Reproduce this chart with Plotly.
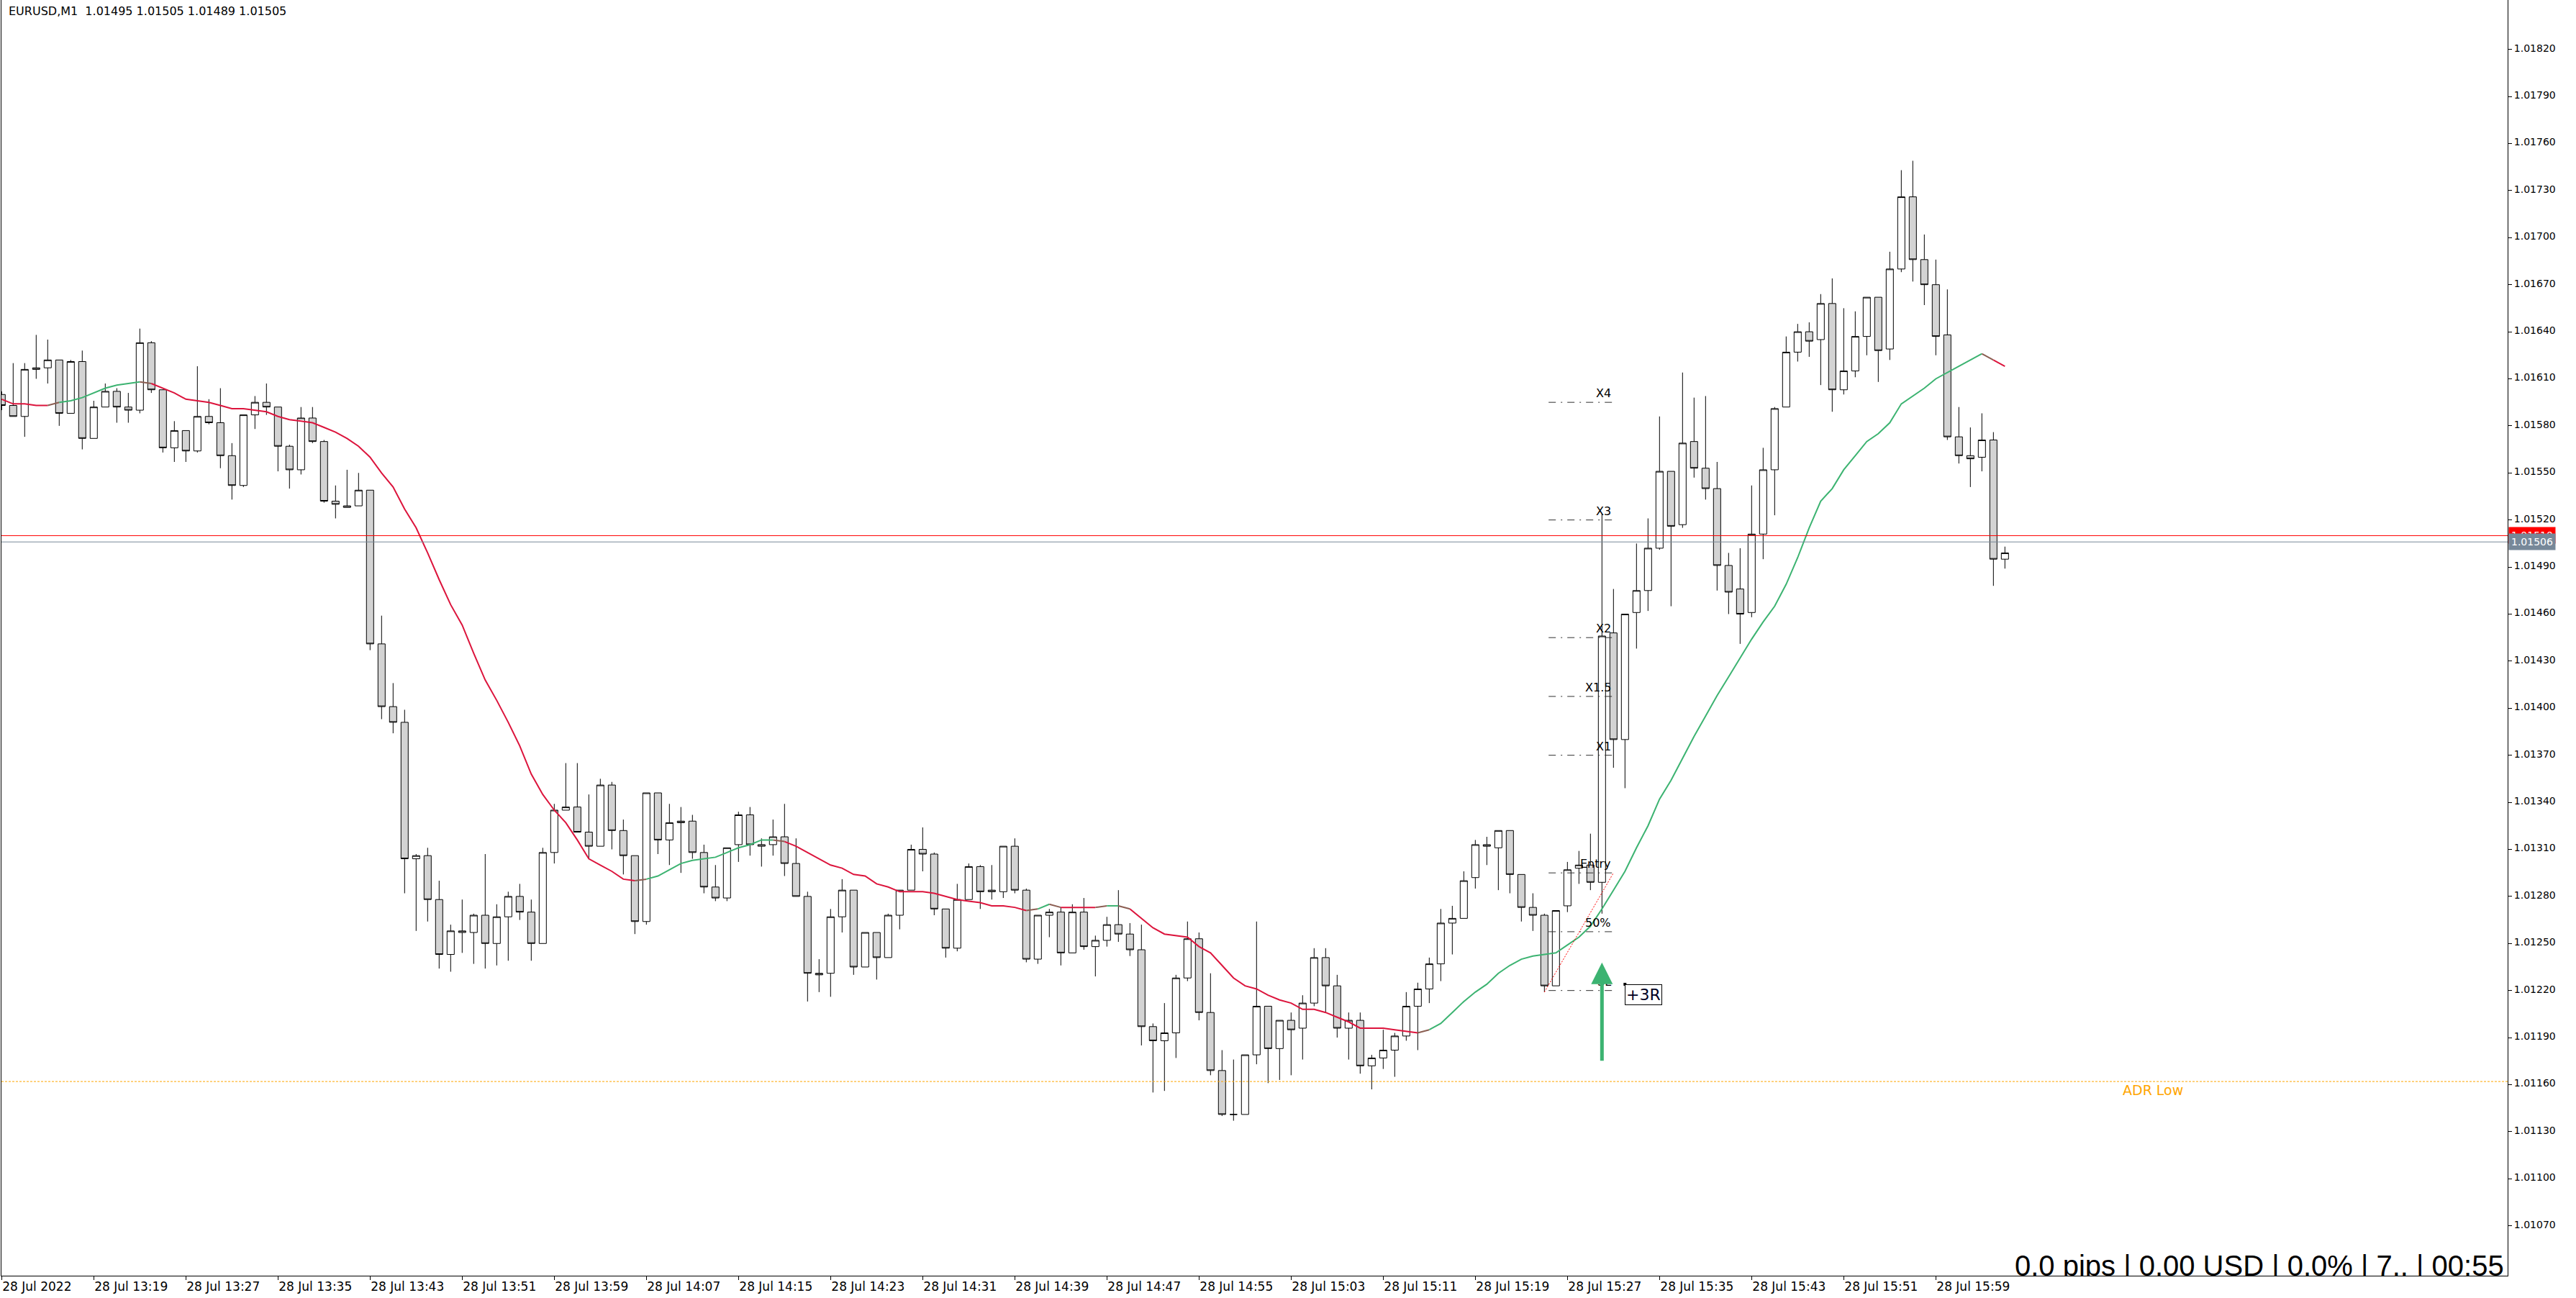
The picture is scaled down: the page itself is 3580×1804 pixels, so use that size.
import plotly.graph_objects as go
import pandas as pd

TITLE = "EURUSD,M1  1.01495 1.01505 1.01489 1.01505"
times = pd.date_range("2022-07-28 13:11", periods=175, freq="min")

opens = [1.01600,1.01593,1.01586,1.01616,1.01617,1.01622,1.01588,1.01621,1.01572,1.01592,
1.01602,1.01592,1.01590,1.01633,1.01603,1.01566,1.01577,1.01564,1.01586,1.01582,
1.01561,1.01542,1.01587,1.01595,1.01592,1.01567,1.01552,1.01585,1.01570,1.01532,
1.01528,1.01529,1.01539,1.01441,1.01401,1.01391,1.01304,1.01306,1.01278,1.01243,
1.01257,1.01257,1.01268,1.01250,1.01267,1.01280,1.01270,1.01250,1.01308,1.01335,
1.01337,1.01321,1.01312,1.01351,1.01322,1.01306,1.01264,1.01346,1.01316,1.01327,
1.01328,1.01308,1.01286,1.01279,1.01313,1.01332,1.01312,1.01313,1.01318,1.01301,
1.01280,1.01231,1.01231,1.01267,1.01284,1.01235,1.01257,1.01241,1.01268,1.01284,
1.01310,1.01307,1.01272,1.01247,1.01278,1.01299,1.01283,1.01283,1.01312,1.01284,
1.01240,1.01268,1.01270,1.01244,1.01270,1.01248,1.01252,1.01262,1.01256,1.01246,
1.01197,1.01188,1.01193,1.01228,1.01253,1.01206,1.01169,1.01141,1.01141,1.01179,
1.01210,1.01183,1.01201,1.01196,1.01212,1.01241,1.01223,1.01196,1.01201,1.01172,
1.01177,1.01182,1.01191,1.01210,1.01221,1.01237,1.01263,1.01266,1.01292,1.01313,
1.01311,1.01322,1.01294,1.01273,1.01268,1.01223,1.01274,1.01298,1.01300,1.01289,
1.01448,1.01380,1.01461,1.01475,1.01502,1.01551,1.01517,1.01570,1.01553,1.01540,
1.01491,1.01476,1.01461,1.01511,1.01552,1.01592,1.01627,1.01640,1.01635,1.01658,
1.01603,1.01615,1.01637,1.01662,1.01629,1.01680,1.01726,1.01686,1.01670,1.01638,
1.01573,1.01561,1.01560,1.01571,1.01495]

highs = [1.01602,1.01620,1.01620,1.01638,1.01635,1.01622,1.01622,1.01628,1.01596,1.01607,
1.01604,1.01601,1.01642,1.01634,1.01603,1.01583,1.01577,1.01618,1.01597,1.01604,
1.01569,1.01587,1.01599,1.01607,1.01592,1.01568,1.01592,1.01592,1.01571,1.01542,
1.01552,1.01550,1.01539,1.01459,1.01416,1.01399,1.01307,1.01311,1.01290,1.01262,
1.01278,1.01269,1.01307,1.01275,1.01283,1.01288,1.01278,1.01311,1.01339,1.01365,
1.01365,1.01345,1.01355,1.01353,1.01329,1.01306,1.01346,1.01346,1.01339,1.01337,
1.01332,1.01313,1.01300,1.01311,1.01334,1.01337,1.01317,1.01329,1.01339,1.01317,
1.01283,1.01240,1.01272,1.01291,1.01284,1.01257,1.01257,1.01269,1.01284,1.01313,
1.01324,1.01308,1.01272,1.01288,1.01301,1.01300,1.01300,1.01312,1.01317,1.01285,
1.01268,1.01272,1.01273,1.01275,1.01279,1.01255,1.01267,1.01284,1.01263,1.01262,
1.01199,1.01212,1.01230,1.01264,1.01257,1.01231,1.01182,1.01176,1.01179,1.01264,
1.01210,1.01201,1.01206,1.01217,1.01247,1.01247,1.01230,1.01206,1.01206,1.01179,
1.01195,1.01193,1.01219,1.01225,1.01241,1.01272,1.01274,1.01296,1.01316,1.01318,
1.01322,1.01322,1.01294,1.01282,1.01269,1.01271,1.01302,1.01309,1.01320,1.01524,
1.01476,1.01460,1.01505,1.01521,1.01586,1.01551,1.01614,1.01598,1.01599,1.01557,
1.01499,1.01502,1.01542,1.01566,1.01592,1.01637,1.01645,1.01646,1.01664,1.01674,
1.01655,1.01653,1.01662,1.01662,1.01691,1.01743,1.01749,1.01702,1.01686,1.01667,
1.01592,1.01579,1.01588,1.01576,1.01503]

lows = [1.01590,1.01586,1.01573,1.01610,1.01607,1.01580,1.01588,1.01565,1.01572,1.01592,
1.01582,1.01582,1.01588,1.01601,1.01563,1.01557,1.01557,1.01563,1.01581,1.01553,
1.01533,1.01541,1.01578,1.01587,1.01551,1.01540,1.01549,1.01569,1.01531,1.01521,
1.01528,1.01529,1.01437,1.01393,1.01384,1.01282,1.01258,1.01264,1.01234,1.01232,
1.01244,1.01237,1.01234,1.01236,1.01239,1.01265,1.01239,1.01250,1.01301,1.01335,
1.01321,1.01304,1.01312,1.01310,1.01294,1.01256,1.01262,1.01307,1.01300,1.01295,
1.01304,1.01282,1.01277,1.01277,1.01302,1.01306,1.01299,1.01306,1.01293,1.01280,
1.01213,1.01219,1.01216,1.01257,1.01230,1.01235,1.01227,1.01241,1.01259,1.01284,
1.01296,1.01268,1.01241,1.01245,1.01278,1.01272,1.01278,1.01279,1.01282,1.01238,
1.01237,1.01254,1.01236,1.01244,1.01246,1.01229,1.01248,1.01251,1.01242,1.01185,
1.01155,1.01156,1.01177,1.01226,1.01201,1.01166,1.01140,1.01137,1.01141,1.01173,
1.01161,1.01163,1.01166,1.01176,1.01210,1.01206,1.01190,1.01176,1.01167,1.01157,
1.01170,1.01165,1.01188,1.01182,1.01212,1.01226,1.01243,1.01266,1.01285,1.01300,
1.01284,1.01282,1.01264,1.01258,1.01219,1.01223,1.01270,1.01288,1.01284,1.01269,
1.01362,1.01349,1.01438,1.01462,1.01501,1.01465,1.01515,1.01547,1.01533,1.01475,
1.01460,1.01441,1.01458,1.01495,1.01523,1.01592,1.01621,1.01624,1.01606,1.01589,
1.01600,1.01611,1.01625,1.01608,1.01622,1.01678,1.01672,1.01657,1.01625,1.01571,
1.01556,1.01541,1.01551,1.01478,1.01489]

closes = [1.01593,1.01586,1.01616,1.01617,1.01622,1.01588,1.01621,1.01572,1.01592,1.01602,
1.01592,1.01590,1.01633,1.01603,1.01566,1.01577,1.01564,1.01586,1.01582,1.01561,
1.01542,1.01587,1.01595,1.01592,1.01567,1.01552,1.01585,1.01570,1.01532,1.01530,
1.01529,1.01539,1.01441,1.01401,1.01391,1.01304,1.01306,1.01278,1.01243,1.01258,
1.01258,1.01268,1.01250,1.01267,1.01280,1.01270,1.01250,1.01308,1.01335,1.01337,
1.01321,1.01312,1.01351,1.01322,1.01306,1.01264,1.01346,1.01316,1.01327,1.01328,
1.01308,1.01286,1.01279,1.01311,1.01332,1.01313,1.01313,1.01318,1.01301,1.01280,
1.01231,1.01230,1.01267,1.01284,1.01235,1.01257,1.01241,1.01268,1.01284,1.01310,
1.01307,1.01272,1.01247,1.01278,1.01299,1.01283,1.01284,1.01312,1.01284,1.01240,
1.01268,1.01270,1.01244,1.01270,1.01248,1.01252,1.01262,1.01256,1.01246,1.01197,
1.01188,1.01193,1.01228,1.01253,1.01206,1.01169,1.01141,1.01141,1.01179,1.01210,
1.01183,1.01201,1.01195,1.01212,1.01241,1.01223,1.01196,1.01201,1.01172,1.01177,
1.01182,1.01191,1.01210,1.01221,1.01237,1.01263,1.01266,1.01290,1.01313,1.01312,
1.01322,1.01294,1.01273,1.01268,1.01223,1.01271,1.01297,1.01300,1.01289,1.01446,
1.01380,1.01460,1.01475,1.01502,1.01551,1.01516,1.01569,1.01553,1.01540,1.01491,
1.01474,1.01460,1.01511,1.01552,1.01591,1.01627,1.01640,1.01634,1.01658,1.01603,
1.01615,1.01637,1.01662,1.01628,1.01680,1.01726,1.01686,1.01670,1.01637,1.01573,
1.01561,1.01559,1.01571,1.01495,1.01499]

ma_line = [1.01597,1.01594,1.01594,1.01593,1.01593,1.01595,1.01596,1.01598,1.01601,1.01604,
1.01606,1.01607,1.01608,1.01607,1.01604,1.01601,1.01597,1.01596,1.01595,1.01593,
1.01591,1.01591,1.01590,1.01589,1.01586,1.01584,1.01583,1.01582,1.01579,1.01576,
1.01572,1.01567,1.01560,1.01550,1.01541,1.01527,1.01515,1.01499,1.01482,1.01466,
1.01453,1.01435,1.01418,1.01405,1.01391,1.01376,1.01358,1.01345,1.01335,1.01327,
1.01316,1.01304,1.01300,1.01296,1.01291,1.01290,1.01291,1.01293,1.01297,1.01301,
1.01303,1.01304,1.01305,1.01308,1.01311,1.01313,1.01316,1.01316,1.01315,1.01312,
1.01308,1.01304,1.01300,1.01298,1.01294,1.01293,1.01288,1.01286,1.01283,1.01283,
1.01283,1.01282,1.01280,1.01278,1.01277,1.01276,1.01274,1.01274,1.01273,1.01271,
1.01272,1.01275,1.01273,1.01273,1.01273,1.01273,1.01274,1.01274,1.01272,1.01266,
1.01260,1.01256,1.01255,1.01254,1.01248,1.01244,1.01236,1.01228,1.01223,1.01221,
1.01217,1.01214,1.01212,1.01208,1.01208,1.01206,1.01203,1.01200,1.01196,1.01196,
1.01196,1.01195,1.01194,1.01193,1.01195,1.01199,1.01206,1.01213,1.01219,1.01224,
1.01231,1.01236,1.01240,1.01242,1.01243,1.01244,1.01249,1.01254,1.01261,1.01272,
1.01284,1.01296,1.01311,1.01325,1.01342,1.01354,1.01368,1.01382,1.01395,1.01408,
1.01420,1.01432,1.01444,1.01455,1.01465,1.01479,1.01496,1.01515,1.01532,1.01540,
1.01552,1.01561,1.01570,1.01575,1.01582,1.01594,1.01599,1.01604,1.01610,1.01614,
1.01618,1.01622,1.01626,1.01622,1.01618]

tick_times = ["2022-07-28 13:11", "2022-07-28 13:19", "2022-07-28 13:27", "2022-07-28 13:35",
              "2022-07-28 13:43", "2022-07-28 13:51", "2022-07-28 13:59", "2022-07-28 14:07",
              "2022-07-28 14:15", "2022-07-28 14:23", "2022-07-28 14:31", "2022-07-28 14:39",
              "2022-07-28 14:47", "2022-07-28 14:55", "2022-07-28 15:03", "2022-07-28 15:11",
              "2022-07-28 15:19", "2022-07-28 15:27", "2022-07-28 15:35", "2022-07-28 15:43",
              "2022-07-28 15:51", "2022-07-28 15:59"]
tick_labels = ["28 Jul 2022", "28 Jul 13:19", "28 Jul 13:27", "28 Jul 13:35", "28 Jul 13:43",
               "28 Jul 13:51", "28 Jul 13:59", "28 Jul 14:07", "28 Jul 14:15", "28 Jul 14:23",
               "28 Jul 14:31", "28 Jul 14:39", "28 Jul 14:47", "28 Jul 14:55", "28 Jul 15:03",
               "28 Jul 15:11", "28 Jul 15:19", "28 Jul 15:27", "28 Jul 15:35", "28 Jul 15:43",
               "28 Jul 15:51", "28 Jul 15:59"]
price_ticks = [1.01070, 1.01100, 1.01130, 1.01160, 1.01190, 1.01220, 1.01250, 1.01280, 1.01310,
               1.01340, 1.01370, 1.01400, 1.01430, 1.01460, 1.01490, 1.01520, 1.01550, 1.01580,
               1.01610, 1.01640, 1.01670, 1.01700, 1.01730, 1.01760, 1.01790, 1.01820]

ask_price = 1.01510
bid_price = 1.01506
adr_low = 1.01162

trade_names = ["X4", "X3", "X2", "X1.5", "X1", "Entry", "50%", "SL"]
trade_levels = [1.01595, 1.01520, 1.01445, 1.014075, 1.01370, 1.01295, 1.012575, 1.01220]
trade_x0 = "2022-07-28 15:25:22"
trade_x1 = "2022-07-28 15:31:00"
diag_x0, diag_y0 = "2022-07-28 15:25:00", 1.01219
diag_x1, diag_y1 = "2022-07-28 15:31:00", 1.01295
arrow_x, arrow_tail, arrow_tip = "2022-07-28 15:30:00", 1.011746, 1.012378
r_label_x, r_label_y, r_label = "2022-07-28 15:32:00", 1.01224, "+3R"
status_text = "0.0 pips | 0.00 USD | 0.0% | 7.. | 00:55"

RED, GREEN, MIX = "#DC143C", "#3CB371", "#8B5E52"
FONT = "DejaVu Sans"

fig = go.Figure()
fig.add_trace(go.Candlestick(
    x=times, open=opens, high=highs, low=lows, close=closes,
    increasing=dict(line=dict(color="black", width=1), fillcolor="white"),
    decreasing=dict(line=dict(color="black", width=1), fillcolor="#D3D3D3"),
    whiskerwidth=0, hoverinfo="skip", showlegend=False))

# moving average, coloured by direction
colors = []
state = None
for k in range(len(ma_line) - 1):
    d = ma_line[k + 1] - ma_line[k]
    if d > 0.000005:
        s = "up"
    elif d < -0.000005:
        s = "down"
    else:
        s = state or "down"
    c = GREEN if s == "up" else RED
    if state is not None and s != state:
        c = MIX
    colors.append(c)
    state = s
k = 0
while k < len(colors):
    j = k
    while j + 1 < len(colors) and colors[j + 1] == colors[k]:
        j += 1
    fig.add_trace(go.Scatter(x=times[k:j + 2], y=ma_line[k:j + 2], mode="lines",
                             line=dict(color=colors[k], width=2), hoverinfo="skip",
                             showlegend=False))
    k = j + 1

shapes = []
shapes.append(dict(type="line", xref="paper", x0=0, x1=1, yref="y", y0=ask_price, y1=ask_price,
                   line=dict(color="#FF0000", width=1), layer="above"))
shapes.append(dict(type="line", xref="paper", x0=0, x1=1, yref="y", y0=bid_price, y1=bid_price,
                   line=dict(color="#778899", width=1), layer="above"))
shapes.append(dict(type="line", xref="paper", x0=0, x1=1, yref="y", y0=adr_low, y1=adr_low,
                   line=dict(color="#FFA500", width=1, dash="3px,2px"), layer="above"))
for lv in trade_levels:
    shapes.append(dict(type="line", xref="x", x0=trade_x0, x1=trade_x1, yref="y", y0=lv, y1=lv,
                       line=dict(color="#303030", width=1, dash="10px,7px,2px,7px"), layer="above"))
shapes.append(dict(type="line", xref="x", x0=diag_x0, x1=diag_x1, yref="y", y0=diag_y0, y1=diag_y1,
                   line=dict(color="#FF0000", width=1, dash="2px,2px"), layer="above"))

annotations = []
annotations.append(dict(xref="paper", yref="paper", x=0.0023, y=1, xanchor="left", yanchor="top",
                        yshift=-4, text=TITLE, showarrow=False,
                        font=dict(family=FONT, size=16, color="black")))
for name, lv in zip(trade_names, trade_levels):
    annotations.append(dict(xref="x", yref="y", x=trade_x1, y=lv, xanchor="right", yanchor="bottom",
                            xshift=-1, yshift=1, text=name, showarrow=False,
                            font=dict(family=FONT, size=16, color="black")))
annotations.append(dict(xref="x", yref="y", x="2022-07-28 16:15:06", y=adr_low, xanchor="left",
                        yanchor="top", yshift=1, text="ADR Low", showarrow=False,
                        font=dict(family=FONT, size=19, color="#FFA500")))
annotations.append(dict(xref="x", yref="y", x=arrow_x, y=arrow_tip, axref="x", ayref="y",
                        ax=arrow_x, ay=arrow_tail, text="", showarrow=True, arrowhead=2,
                        arrowsize=1.2, arrowwidth=5, arrowcolor=GREEN))
annotations.append(dict(xref="x", yref="y", x=r_label_x, y=r_label_y, xanchor="left", yanchor="top",
                        text=r_label, showarrow=False, bordercolor="black", borderwidth=1,
                        borderpad=1, bgcolor="white",
                        font=dict(family=FONT, size=22, color="#000022")))
annotations.append(dict(xref="paper", yref="y", x=1, y=ask_price, xanchor="left", yanchor="middle",
                        xshift=1, text="1.01510", showarrow=False, bgcolor="#FF0000", borderpad=3,
                        font=dict(family=FONT, size=14, color="white")))
annotations.append(dict(xref="paper", yref="y", x=1, y=bid_price, xanchor="left", yanchor="middle",
                        xshift=1, text="1.01506", showarrow=False, bgcolor="#778899", borderpad=3,
                        font=dict(family=FONT, size=14, color="white")))

fig.add_trace(go.Scatter(x=[r_label_x], y=[r_label_y], mode="markers",
                         marker=dict(symbol="square", size=4, color="black"),
                         hoverinfo="skip", showlegend=False))
fig.add_trace(go.Scatter(x=["2022-07-28 16:48:20"], y=[1.010336], mode="text",
                         text=[status_text], textposition="top left",
                         textfont=dict(family="Liberation Sans", size=40, color="black"),
                         hoverinfo="skip", showlegend=False))

fig.update_layout(
    width=3580, height=1804,
    margin=dict(l=2, r=95, t=0, b=31, autoexpand=False),
    paper_bgcolor="white", plot_bgcolor="white",
    showlegend=False, boxgap=0.375, boxgroupgap=0,
    shapes=shapes, annotations=annotations,
    xaxis=dict(type="date", range=["2022-07-28 13:10:58.9", "2022-07-28 16:48:40"],
               rangeslider=dict(visible=False), showgrid=False, zeroline=False,
               showline=True, linecolor="black", linewidth=1, automargin=False,
               ticks="outside", ticklen=5, tickcolor="black",
               tickvals=tick_times, ticktext=tick_labels, ticklabelposition="outside right",
               tickfont=dict(family=FONT, size=17, color="black")),
    yaxis=dict(side="right", range=[1.010382, 1.018515], showgrid=False, zeroline=False,
               showline=True, mirror=True, linecolor="black", linewidth=1, automargin=False,
               ticks="outside", ticklen=5, tickcolor="black", ticklabelshift=-2,
               tickvals=price_ticks, ticktext=["%.5f" % v for v in price_ticks],
               tickfont=dict(family=FONT, size=14, color="black")),
)

fig.write_html("out.html", config={"displayModeBar": False},
               post_script="document.body.style.margin='0px';document.body.style.overflow='hidden';")
